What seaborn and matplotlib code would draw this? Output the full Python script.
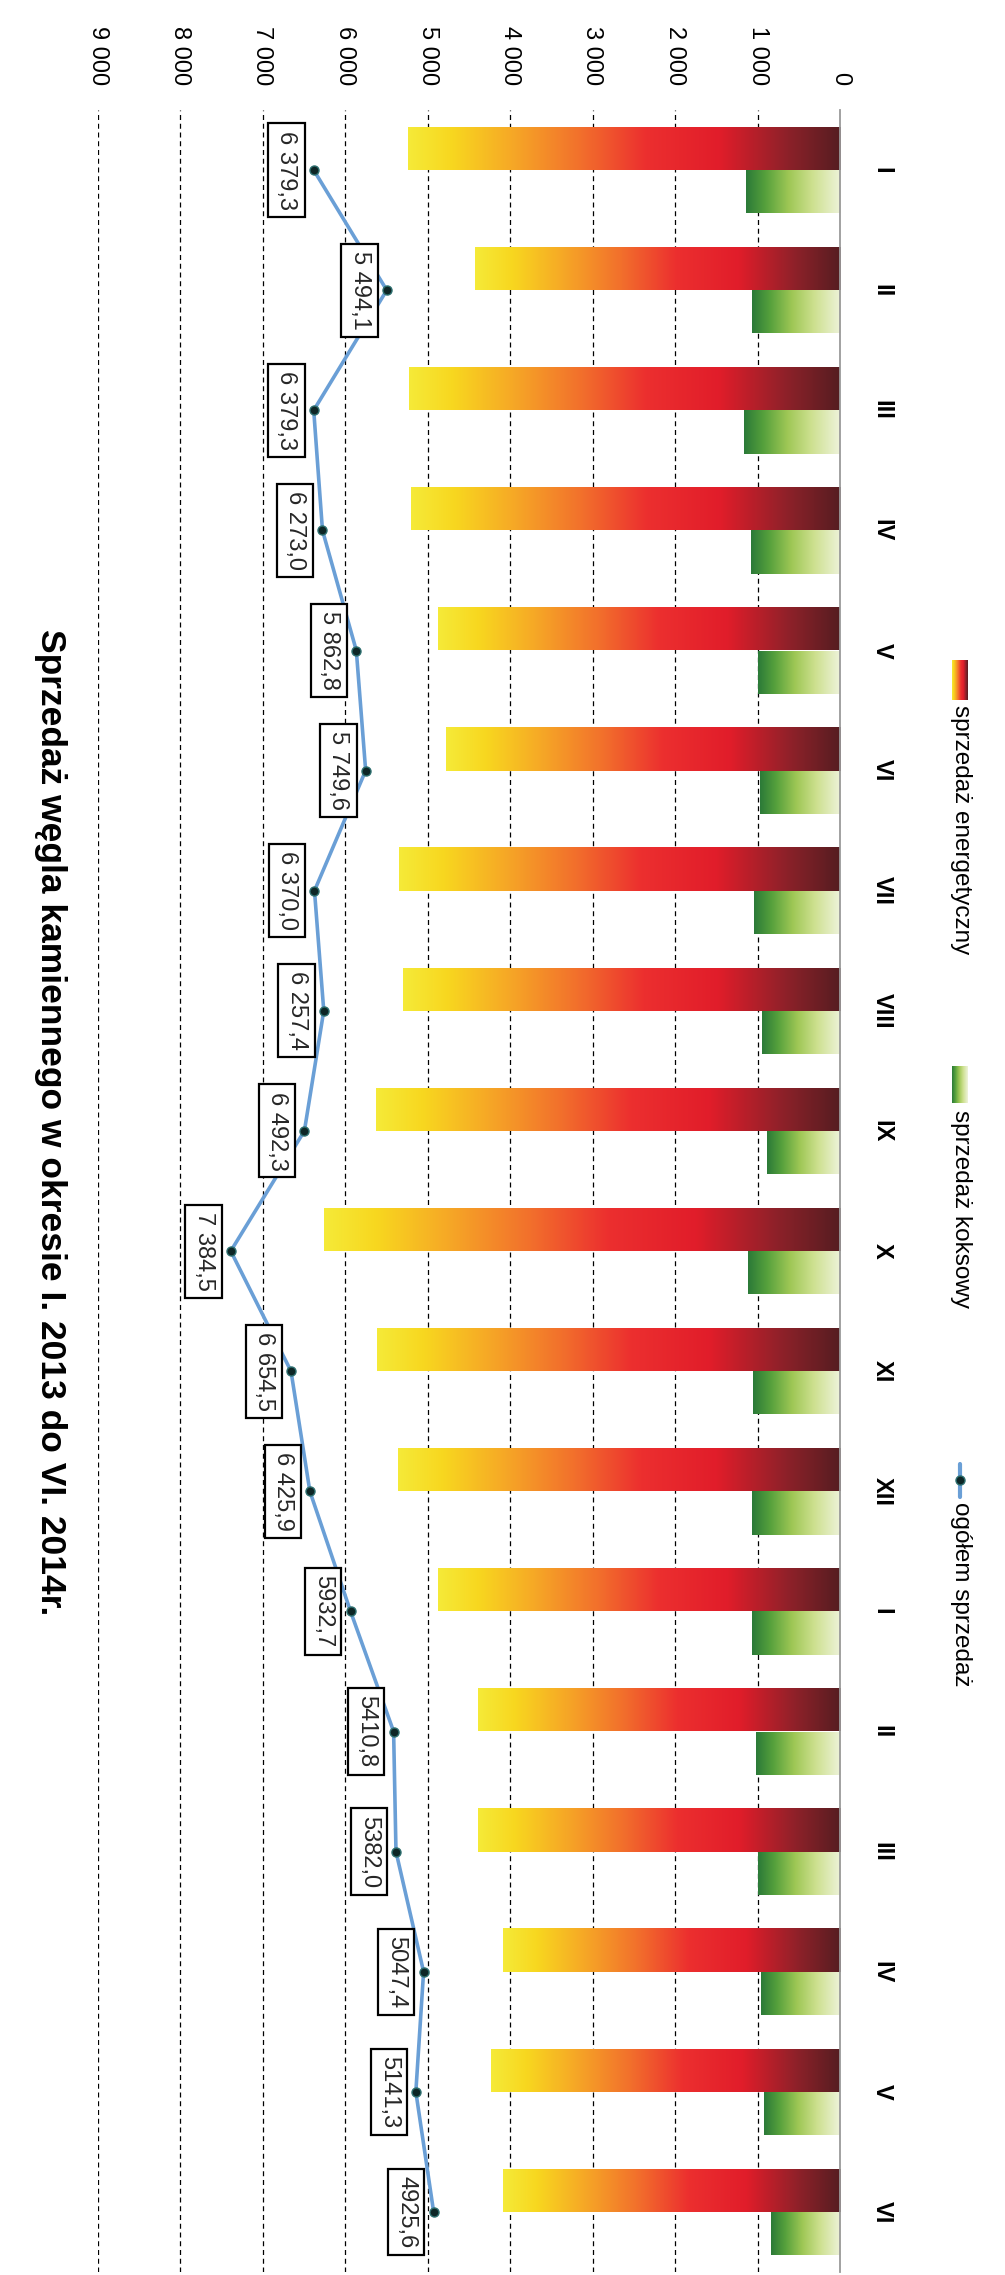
import numpy as np
import pandas as pd
import matplotlib
matplotlib.use("Agg")
import matplotlib.pyplot as plt
import seaborn as sns
from matplotlib.colors import LinearSegmentedColormap
from matplotlib.lines import Line2D

# ---------------- data ----------------
months = ["I", "II", "III", "IV", "V", "VI", "VII", "VIII", "IX", "X", "XI", "XII",
          "I", "II", "III", "IV", "V", "VI"]
years = [2013] * 12 + [2014] * 6
energetyczny = [5240, 4430, 5220, 5200, 4870, 4780, 5340, 5300, 5620, 6260, 5610, 5360,
                4870, 4390, 4390, 4090, 4230, 4090]
koksowy = [1140, 1070, 1160, 1080, 990, 970, 1040, 950, 880, 1120, 1050, 1070,
           1070, 1020, 1000, 960, 920, 840]
ogolem = [6379.3, 5494.1, 6379.3, 6273.0, 5862.8, 5749.6, 6370.0, 6257.4, 6492.3, 7384.5,
          6654.5, 6425.9, 5932.7, 5410.8, 5382.0, 5047.4, 5141.3, 4925.6]
ogolem_labels = ["6 379,3", "5 494,1", "6 379,3", "6 273,0", "5 862,8", "5 749,6", "6 370,0",
                 "6 257,4", "6 492,3", "7 384,5", "6 654,5", "6 425,9", "5932,7", "5410,8",
                 "5382,0", "5047,4", "5141,3", "4925,6"]
value_ticks = [0, 1000, 2000, 3000, 4000, 5000, 6000, 7000, 8000, 9000]
value_tick_labels = ["0", "1 000", "2 000", "3 000", "4 000", "5 000", "6 000", "7 000",
                     "8 000", "9 000"]
series_names = ["sprzedaż energetyczny", "sprzedaż koksowy", "ogółem sprzedaż"]
title = "Sprzedaż węgla kamiennego w okresie I. 2013 do VI. 2014r."

# ---------------- style ----------------
sns.set_theme(style="white")
plt.rcParams["font.family"] = ["Liberation Sans", "DejaVu Sans"]

W, H = 1005, 2275
fig = plt.figure(figsize=(W / 100, H / 100), dpi=100)
ax = fig.add_axes([97.5 / W, 1 - 2272 / H, (840 - 97.5) / W, (2272 - 110) / H])

keys = [f"{m}-{y}" for m, y in zip(months, years)]
df = pd.DataFrame({
    "key": keys * 2,
    "value": energetyczny + koksowy,
    "series": [series_names[0]] * len(keys) + [series_names[1]] * len(keys),
})

sns.barplot(data=df, x="value", y="key", hue="series", hue_order=series_names[:2],
            orient="h", width=0.72, gap=0, palette=["#e41e2b", "#5aa33d"],
            saturation=1, legend=False, ax=ax)

cmap_energ = LinearSegmentedColormap.from_list("energ", [
    (0.0, "#561d21"), (0.12, "#8c2129"), (0.28, "#e11d2a"), (0.45, "#ec2f2f"),
    (0.60, "#f26f2c"), (0.76, "#f6a826"), (0.90, "#f8d71f"), (1.0, "#f5ea38")])
cmap_koks = LinearSegmentedColormap.from_list("koks", [
    (0.0, "#eef3da"), (0.3, "#cde08f"), (0.55, "#9ec755"), (0.8, "#55a03c"),
    (1.0, "#2b7a38")])

grad = np.linspace(0, 1, 256).reshape(1, -1)
n = len(keys)
for i, p in enumerate(list(ax.patches)):
    cmap = cmap_energ if i < n else cmap_koks
    x0, y0, w, h = p.get_x(), p.get_y(), p.get_width(), p.get_height()
    p.set_facecolor("none")
    p.set_edgecolor("none")
    im = ax.imshow(grad, cmap=cmap, aspect="auto", extent=(x0, x0 + w, y0 + h, y0),
                   interpolation="bilinear", zorder=2)
    im.set_clip_path(p)

# line
pos = np.arange(n)
ax.plot(ogolem, pos, color="#6a9fd6", lw=2.6, zorder=4, solid_capstyle="round")
ax.plot(ogolem, pos, ls="none", marker="o", ms=6.5, mfc="#0d2626", mec="#2d6f6f",
        mew=1.0, zorder=5)

for v, y, lab in zip(ogolem, pos, ogolem_labels):
    ax.text(v + 330, y, lab, rotation=-90, ha="center", va="center", fontsize=17,
            zorder=6,
            bbox=dict(boxstyle="square,pad=0.3", fc="white", ec="black", lw=1.6))

# axes
ax.set_xlim(9000, 0)
ax.set_ylim(n - 0.5, -0.5)
ax.xaxis.tick_top()
ax.set_xticks(value_ticks)
ax.set_xticklabels(value_tick_labels, rotation=-90, fontsize=17, color="black")
ax.tick_params(axis="x", length=0, pad=18)
ax.yaxis.tick_right()
ax.set_yticks(pos)
ax.set_yticklabels(months, rotation=-90, fontsize=17, fontweight="bold", color="black",
                   va="center")
ax.tick_params(axis="y", length=0, pad=22)
ax.set_xlabel("")
ax.set_ylabel("")
ax.set_axisbelow(True)
ax.xaxis.grid(True, linestyle=(0, (4, 3)), color="black", lw=0.9)
ax.yaxis.grid(False)
for s in ["left", "top", "bottom"]:
    ax.spines[s].set_visible(False)
ax.spines["right"].set_color("#9a9a9a")
ax.spines["right"].set_linewidth(1.3)
ax.spines["right"].set_zorder(7)
ax.get_xgridlines()[0].set_visible(False)

# title
fig.text(50 / W, 1 - 1122 / H, title, rotation=-90, ha="center", va="center",
         fontsize=25.5, fontweight="bold", color="black")

# legend (manual, rotated)
def swatch(y_top, y_bot, cmap, reverse):
    a = fig.add_axes([952 / W, 1 - y_bot / H, 16 / W, (y_bot - y_top) / H])
    g = np.linspace(0, 1, 64).reshape(1, -1)
    if reverse:
        g = g[:, ::-1]
    a.imshow(g, cmap=cmap, aspect="auto", interpolation="bilinear")
    a.set_axis_off()

swatch(660, 700, cmap_energ, True)
swatch(1066, 1103, cmap_koks, True)
fig.add_artist(Line2D([960 / W, 960 / W], [1 - 1464 / H, 1 - 1497 / H],
                      transform=fig.transFigure, color="#6a9fd6", lw=3))
fig.add_artist(Line2D([960 / W], [1 - 1480 / H], transform=fig.transFigure,
                      marker="o", ms=6.5, mfc="#0d2626", mec="#2d6f6f", ls="none"))
for ytop, txt in [(705, series_names[0]), (1110, series_names[1]), (1502, series_names[2])]:
    fig.text(961 / W, 1 - ytop / H, txt, rotation=-90, ha="center", va="top",
             fontsize=17.5, color="black")

fig.savefig("out.png", dpi=100)
